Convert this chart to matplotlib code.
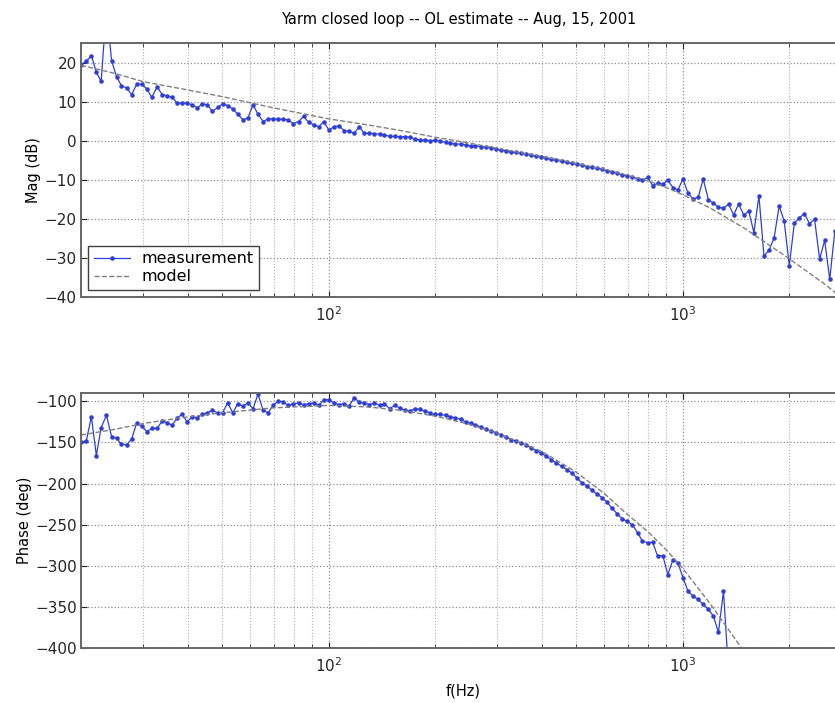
import numpy as np
import matplotlib
matplotlib.use("Agg")
import matplotlib.pyplot as plt
from matplotlib.ticker import LogLocator, NullFormatter, MultipleLocator

plt.rcParams['font.family'] = ['DejaVu Sans']

# ---- measurement frequencies (Hz) ----
freq = [
    20.0, 20.7, 21.4, 22.1, 22.8, 23.6, 24.4, 25.2, 26.0, 26.9,
    27.8, 28.7, 29.7, 30.7, 31.7, 32.8, 33.9, 35.0, 36.2, 37.4,
    38.6, 39.9, 41.2, 42.6, 44.0, 45.5, 47.0, 48.6, 50.2, 51.9,
    53.7, 55.4, 57.3, 59.2, 61.2, 63.2, 65.4, 67.5, 69.8, 72.1,
    74.6, 77.0, 79.6, 82.3, 85.0, 87.9, 90.8, 93.9, 97.0, 100.2,
    103.6, 107.1, 110.6, 114.3, 118.2, 122.1, 126.2, 130.4, 134.8, 139.3,
    143.9, 148.8, 153.7, 158.9, 164.2, 169.7, 175.3, 181.2, 187.3, 193.5,
    200, 207, 214, 221, 228, 236, 244, 252, 260, 269,
    278, 287, 297, 307, 317, 328, 339, 350, 362, 374,
    386, 399, 412, 426, 440, 455, 470, 486, 502, 519,
    537, 554, 573, 592, 612, 632, 654, 675, 698, 721,
    746, 770, 796, 823, 850, 879, 908, 939, 970, 1002,
    1036, 1071, 1106, 1143, 1182, 1221, 1262, 1304, 1348, 1393,
    1439, 1488, 1537, 1589, 1642, 1697, 1753, 1812, 1873, 1935,
    2000, 2067, 2136, 2207, 2281, 2358, 2436, 2518, 2602, 2689,
    2779,
]

# measured magnitude (dB)
mag_meas = [
    19.5, 20.3, 21.8, 17.5, 15.2, 34.0, 20.5, 16.4, 14.1, 13.5,
    11.8, 14.4, 14.5, 13.2, 11.1, 13.8, 11.8, 11.5, 11.1, 9.6,
    9.7, 9.6, 9.2, 8.4, 9.4, 9.2, 7.5, 8.5, 9.4, 9.0,
    8.1, 6.8, 5.4, 5.8, 9.2, 6.8, 4.9, 5.6, 5.6, 5.5,
    5.5, 5.3, 4.4, 4.9, 6.2, 4.7, 4.1, 3.6, 4.9, 2.7,
    3.6, 3.8, 2.6, 2.4, 1.9, 3.6, 1.9, 1.9, 1.8, 1.7,
    1.5, 1.1, 1.1, 1.0, 1.0, 0.9, 0.4, 0.2, 0.2, 0.0,
    0.1, -0.2, -0.4, -0.7, -0.8, -0.9, -1.1, -1.3, -1.3, -1.5,
    -1.6, -1.9, -2.1, -2.4, -2.6, -3.0, -3.0, -3.2, -3.4, -3.7,
    -4.0, -4.1, -4.5, -4.8, -5.0, -5.3, -5.5, -5.8, -6.0, -6.2,
    -6.6, -6.8, -7.0, -7.3, -7.7, -8.0, -8.3, -8.7, -9.0, -9.3,
    -9.7, -10.1, -9.4, -11.5, -10.9, -11.1, -10.1, -12.0, -12.6, -9.8,
    -13.5, -14.9, -14.5, -9.8, -15.1, -16.0, -17.0, -17.3, -16.2, -19.0,
    -16.2, -19.0, -18.0, -23.5, -14.1, -29.5, -28.0, -24.9, -16.7, -20.5,
    -32.0, -21.1, -19.7, -18.7, -21.2, -20.1, -30.3, -25.5, -35.5, -23.2,
    -27.0,
]

# measured phase (deg), drops out of range after ~1.3 kHz
phase_meas = [
    -150, -148, -119, -166, -132, -117, -143, -145, -152, -153,
    -146, -127, -130, -137, -133, -133, -124, -126, -129, -120,
    -116, -125, -119, -120, -116, -114, -111, -114, -114, -102,
    -114, -103, -106, -102, -109, -91.5, -111, -114, -105, -99.6,
    -101, -105, -103, -102, -104, -103, -102, -105, -98, -98,
    -102, -104, -103, -106, -95.5, -101, -102, -104, -102, -105,
    -103, -109, -105, -108, -111, -112, -109, -110, -112, -114,
    -116, -116, -117, -119, -120, -122, -125, -127, -129, -131,
    -134, -136, -138, -141, -143, -147, -148, -151, -153, -157,
    -160, -163, -167, -171, -175, -179, -183, -187, -193, -199,
    -203, -208, -213, -217, -223, -230, -237, -243, -246, -250,
    -260, -270, -272, -271.5, -288.5, -287.6, -310.7, -292.5, -296.5, -314.6,
    -331, -337, -341, -347, -353, -361, -381, -331, -430,
]

# model curves
f_model = [20, 25, 30, 40, 50, 70, 100, 130, 160, 200, 250, 300, 400, 500,
           600, 700, 800, 900, 1000, 1200, 1500, 2000, 2500, 2800]
mag_model = [19.3, 17.2, 15.1, 13.0, 11.3, 8.4, 5.6, 4.0, 2.6, 0.9, -0.6, -2.0,
             -4.0, -5.8, -7.3, -8.9, -10.3, -12.0, -13.8, -17.3, -22.5, -30.2,
             -36.5, -40.0]
phase_model = [-141, -134, -127, -119, -114, -108, -105, -107, -111, -118,
               -128, -139, -161, -186, -212, -238, -259, -281, -303, -347,
               -406, -480, -540, -580]

MEAS_COLOR = '#2f3fd6'
MODEL_COLOR = '0.5'

fig = plt.figure(figsize=(8.35, 7.03), dpi=100)
ax_m = fig.add_axes([0.0970, 0.5775, 0.9102, 0.3613])
ax_p = fig.add_axes([0.0970, 0.0782, 0.9102, 0.3627])

ax_m.plot(freq, mag_meas, '.-', color=MEAS_COLOR, lw=0.9, ms=4.5, label='measurement')
ax_m.plot(f_model, mag_model, '--', color=MODEL_COLOR, lw=1.0, label='model')
ax_p.plot(freq[:len(phase_meas)], phase_meas, '.-', color=MEAS_COLOR, lw=0.9, ms=4.5)
ax_p.plot(f_model, phase_model, '--', color=MODEL_COLOR, lw=1.0)

ax_m.set_ylim(-40, 25)
ax_m.yaxis.set_major_locator(MultipleLocator(10))
ax_p.set_ylim(-400, -90)
ax_p.yaxis.set_major_locator(MultipleLocator(50))

for ax in (ax_m, ax_p):
    ax.set_xscale('log')
    ax.set_xlim(20, 2800)
    ax.xaxis.set_major_locator(LogLocator(base=10))
    ax.xaxis.set_minor_locator(LogLocator(base=10, subs=np.arange(2, 10)))
    ax.xaxis.set_minor_formatter(NullFormatter())
    ax.grid(True, which='major', linestyle=':', color='0.55', lw=0.9)
    ax.grid(True, which='minor', axis='x', linestyle=':', color='0.7', lw=0.8)
    ax.tick_params(which='both', direction='in', top=True, right=True,
                   labelsize=11, colors='0.15')
    ax.tick_params(which='major', length=4)
    ax.tick_params(which='minor', length=3)
    ax.tick_params(axis='x', pad=6)
    ax.tick_params(axis='y', pad=3)
    for s in ax.spines.values():
        s.set_color('0.4')
        s.set_linewidth(1.4)

ax_m.set_ylabel('Mag (dB)', fontsize=10.5, va='center')
ax_m.yaxis.set_label_coords(-0.0625, 0.5)
ax_p.set_ylabel('Phase (deg)', fontsize=10.5, va='center')
ax_p.yaxis.set_label_coords(-0.0745, 0.5)
ax_p.set_xlabel('f(Hz)', fontsize=10.5, va='center')
ax_p.xaxis.set_label_coords(0.5026, -0.1686)

fig.text(0.549, 0.9716, 'Yarm closed loop -- OL estimate -- Aug, 15, 2001',
         ha='center', va='center', fontsize=10.5)

leg = ax_m.legend(loc='lower left', bbox_to_anchor=(0.0092, 0.0276),
                  borderaxespad=0, fancybox=False, edgecolor='0.25',
                  framealpha=1, fontsize=11.5, handlelength=2.3,
                  handletextpad=0.7, labelspacing=0.2, borderpad=0.35)
leg.get_frame().set_linewidth(1.0)

fig.savefig('out.png', dpi=100)
